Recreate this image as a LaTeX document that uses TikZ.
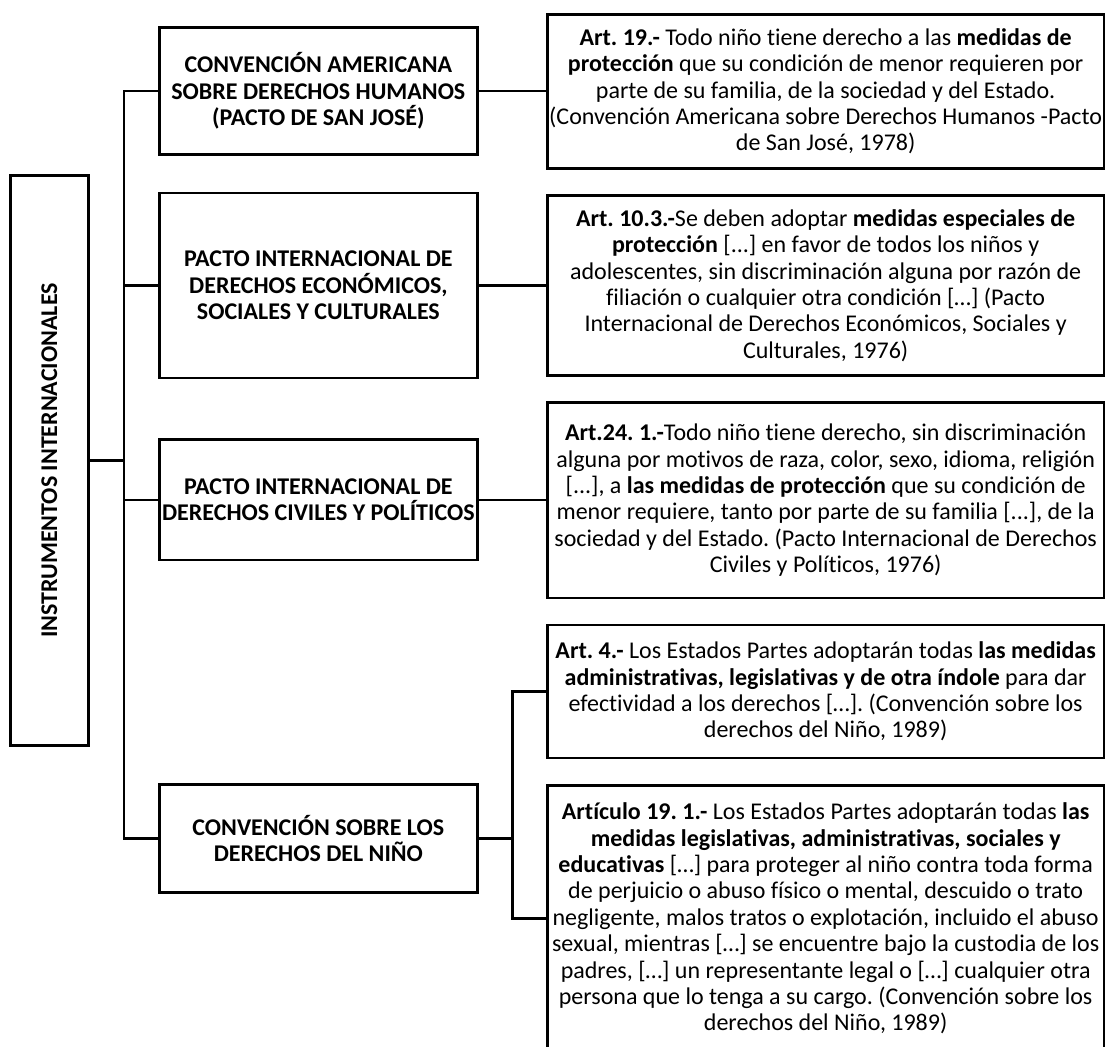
\documentclass[tikz,border=0pt]{standalone}
\usepackage{fontspec}
\setmainfont[Ligatures={NoCommon,NoContextual},Contextuals=NoAlternate]{Carlito}
\frenchspacing
\begin{document}
\begin{tikzpicture}[x=1pt,y=-1pt,line width=2.6pt,
  box/.style={draw, inner sep=0pt, align=center, font=\fontsize{24}{26.4}\selectfont},
  midbox/.style={box, minimum width=317.9pt, font=\fontsize{24}{26.4}\selectfont\bfseries},
  artbox/.style={box, minimum width=556.7pt},
  link/.style={draw, line width=2.6pt}]
\useasboundingbox (0,0) rectangle (1107,1046);
\clip (0,0) rectangle (1107,1046);

\node[box, minimum width=78.2pt, minimum height=569.7pt] (L) at (49.4,460.5)
  {\rotatebox{90}{\bfseries INSTRUMENTOS INTERNACIONALES}};

\node[midbox, minimum height=127.1pt] (M1) at (318.35,91.05)
  {CONVENCIÓN AMERICANA\\SOBRE DERECHOS HUMANOS\\(PACTO DE SAN JOSÉ)};
\node[midbox, minimum height=185.3pt] (M2) at (318.35,285.45)
  {PACTO INTERNACIONAL DE\\DERECHOS ECONÓMICOS,\\SOCIALES Y CULTURALES};
\node[midbox, minimum height=120.3pt] (M3) at (318.35,499.85)
  {PACTO INTERNACIONAL DE\\DERECHOS CIVILES Y POLÍTICOS};
\node[midbox, minimum height=108.5pt] (M4) at (318.35,838.45)
  {CONVENCIÓN SOBRE LOS\\DERECHOS DEL NIÑO};

\node[artbox, minimum height=153.7pt] (R1) at (825.65,91.35)
  {\textbf{Art. 19.-} Todo niño tiene derecho a las \textbf{medidas de}\\
   \textbf{protección} que su condición de menor requieren por\\
   parte de su familia, de la sociedad y del Estado.\\
   (Convención Americana sobre Derechos Humanos -Pacto\\
   de San José, 1978)};
\node[artbox, minimum height=179.7pt] (R2) at (825.65,285.55)
  {\textbf{Art. 10.3.-}Se deben adoptar \textbf{medidas especiales de}\\
   \textbf{protección} [...] en favor de todos los niños y\\
   adolescentes, sin discriminación alguna por razón de\\
   filiación o cualquier otra condición […] (Pacto\\
   Internacional de Derechos Económicos, Sociales y\\
   Culturales, 1976)};
\node[artbox, minimum height=195.5pt] (R3) at (825.65,500.25)
  {\textbf{Art.24. 1.-}Todo niño tiene derecho, sin discriminación\\
   alguna por motivos de raza, color, sexo, idioma, religión\\
   {[...]}, a \textbf{las medidas de protección} que su condición de\\
   menor requiere, tanto por parte de su familia [...], de la\\
   sociedad y del Estado. (Pacto Internacional de Derechos\\
   Civiles y Políticos, 1976)};
\node[artbox, minimum height=133pt] (R4) at (825.65,691.6)
  {\textbf{Art. 4.-} Los Estados Partes adoptarán todas \textbf{las medidas}\\
   \textbf{administrativas, legislativas y de otra índole} para dar\\
   efectividad a los derechos […]. (Convención sobre los\\
   derechos del Niño, 1989)};
\node[artbox, minimum height=266pt] (R5) at (825.65,918.5)
  {\textbf{Artículo 19. 1.-} Los Estados Partes adoptarán todas \textbf{las}\\
   \textbf{medidas legislativas, administrativas, sociales y}\\
   \textbf{educativas} […] para proteger al niño contra toda forma\\
   de perjuicio o abuso físico o mental, descuido o trato\\
   negligente, malos tratos o explotación, incluido el abuso\\
   sexual, mientras […] se encuentre bajo la custodia de los\\
   padres, […] un representante legal o […] cualquier otra\\
   persona que lo tenga a su cargo. (Convención sobre los\\
   derechos del Niño, 1989)};

\coordinate (trunk) at (124,0);
\coordinate (sub) at (512.3,0);

\draw[link] (M1.west) -- (M1.west -| trunk) -- (M4.west -| trunk) -- (M4.west);
\draw[link] (L.east) -- (L.east -| trunk);
\draw[link] (M2.west) -- (M2.west -| trunk);
\draw[link] (M3.west) -- (M3.west -| trunk);

\draw[link] (M1.east) -- (M1.east -| R1.west);
\draw[link] (M2.east) -- (M2.east -| R2.west);
\draw[link] (M3.east) -- (M3.east -| R3.west);

\draw[link] (R4.west) -- (R4.west -| sub) -- (R5.west -| sub) -- (R5.west);
\draw[link] (M4.east) -- (M4.east -| sub);
\end{tikzpicture}
\end{document}
